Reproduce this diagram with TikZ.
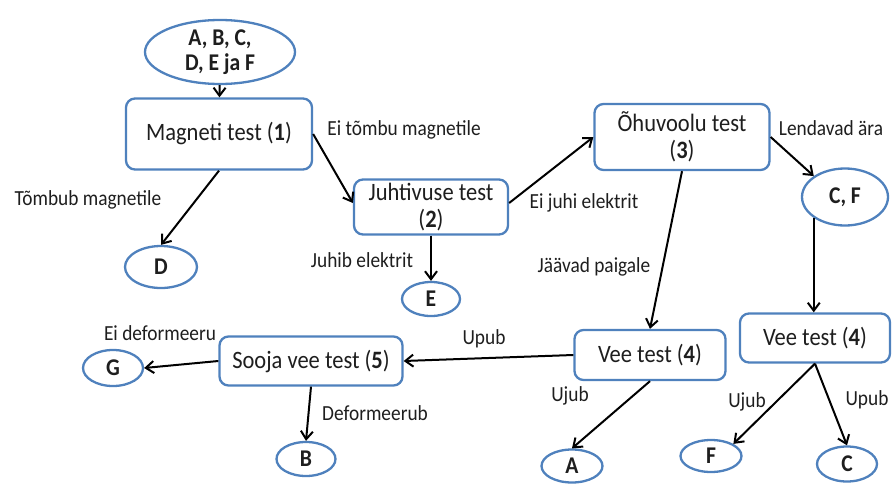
\documentclass[tikz,border=0pt]{standalone}
\usepackage{fontspec}
\setmainfont{Carlito}[FakeStretch=0.9]
\usetikzlibrary{shapes.geometric,arrows.meta}
\definecolor{frame}{HTML}{4F81BD}
\definecolor{ink}{HTML}{1E1E1E}
\begin{document}
\begin{tikzpicture}[x=1pt,y=-1pt,
  box/.style={draw=frame,line width=2.3pt,rounded corners=9pt,fill=white,
    align=center,text=ink,font=\fontsize{25}{27}\selectfont,inner sep=0pt},
  leaf/.style={ellipse,draw=frame,line width=2.3pt,fill=white,inner sep=0pt,
    align=center,text=ink,font=\fontsize{24}{25}\selectfont\bfseries},
  lbl/.style={font=\fontsize{21.5}{23}\selectfont,text=ink,inner sep=0pt},
  arr/.style={line width=2pt,-{Straight Barb[length=8pt,width=12pt,line width=2pt]}}]
\useasboundingbox (0,0) rectangle (892,485);

% tests
\node[box,minimum width=186pt,minimum height=71pt] (mag) at (219,134) {Magneti test (\textbf{1})};
\node[box,minimum width=154pt,minimum height=55pt] (juh) at (431,207) {Juhtivuse test\\(\textbf{2})};
\node[box,minimum width=175pt,minimum height=66pt] (ohu) at (682,137) {Õhuvoolu test\\(\textbf{3})};
\node[box,minimum width=151pt,minimum height=50pt] (vee1) at (650,355) {Vee test (\textbf{4})};
\node[box,minimum width=150pt,minimum height=49pt] (vee2) at (815,338) {Vee test (\textbf{4})};
\node[box,minimum width=183pt,minimum height=49pt] (sooja) at (311,361) {Sooja vee test (\textbf{5})};

% samples
\node[leaf,minimum width=150pt,minimum height=64pt] (all) at (220,52) {A, B, C,\\D, E ja F};
\node[leaf,minimum width=86pt,minimum height=57pt] (cf) at (845,197) {C, F};
\node[leaf,minimum width=72pt,minimum height=42pt] (d) at (161,267) {D};
\node[leaf,minimum width=58pt,minimum height=34pt] (e) at (431,299) {E};
\node[leaf,minimum width=60pt,minimum height=36pt] (g) at (113,368) {G};
\node[leaf,minimum width=59pt,minimum height=34pt] (b) at (306,459) {B};
\node[leaf,minimum width=61pt,minimum height=33pt] (a) at (572,466) {A};
\node[leaf,minimum width=61pt,minimum height=32pt] (f) at (711,456) {F};
\node[leaf,minimum width=60pt,minimum height=35pt] (c) at (847,464) {C};

% connectors
\draw[arr] (all) -- (mag);
\draw[arr] (mag.south) -- (d.north);
\draw[arr] (mag.east) -- ([yshift=4pt]juh.west);
\draw[arr] ([yshift=4pt]juh.east) -- (ohu.west);
\draw[arr] (juh.south) -- (e.north);
\draw[arr] (ohu.east) -- (cf.north west);
\draw[arr] (ohu.south) -- (vee1.north);
\draw[arr] (cf.south west) -- (cf.south west |- vee2.north);
\draw[arr] (vee1.west) -- (sooja.east);
\draw[arr] (sooja.west) -- (g.east);
\draw[arr] (sooja.south) -- (b.north);
\draw[arr] (vee1.south) -- (a.north);
\draw[arr] (vee2.south) -- (f.north east);
\draw[arr] (vee2.south) -- (c.north);

% outcome labels
\node[lbl] at (404,130) {Ei tõmbu magnetile};
\node[lbl] at (88,200) {Tõmbub magnetile};
\node[lbl] at (584,203) {Ei juhi elektrit};
\node[lbl] at (362,260) {Juhib elektrit};
\node[lbl] at (831,128) {Lendavad ära};
\node[lbl] at (594,267) {Jäävad paigale};
\node[lbl] at (484,339) {Upub};
\node[lbl] at (570,396) {Ujub};
\node[lbl] at (747,402) {Ujub};
\node[lbl] at (867,400) {Upub};
\node[lbl] at (160,333) {Ei deformeeru};
\node[lbl] at (375,413) {Deformeerub};
\end{tikzpicture}
\end{document}
